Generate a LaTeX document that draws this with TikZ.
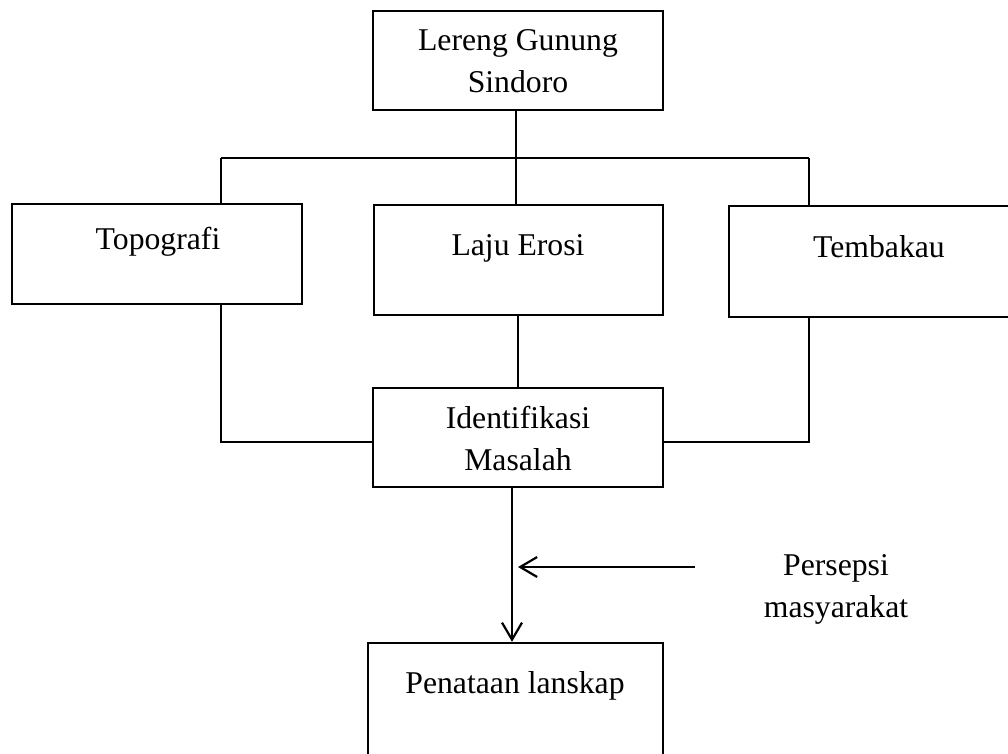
\documentclass[tikz,border=0pt]{standalone}
\usepackage{fontspec}
\setmainfont{Liberation Serif}
\usetikzlibrary{arrows.meta}
\begin{document}
\begin{tikzpicture}[x=1pt,y=-1pt,
  box/.style={draw=black,line width=2.4pt,rectangle,inner sep=0pt,minimum width=#1},
  lbl/.style={font=\fontsize{31.7}{42}\selectfont,inner sep=0pt,align=center},
  thin/.style={draw=black,line width=1.2pt},
  arr/.style={draw=black,line width=2.2pt,-{Straight Barb[length=17pt,width=20pt,line width=2.2pt]}}
]
\useasboundingbox (0,0) rectangle (1008,753);
% boxes
\node[box=290pt,minimum height=99pt]  (top)   at (518,60.5) {};
\node[box=290pt,minimum height=100pt] (topo)  at (157,254) {};
\node[box=289pt,minimum height=110pt] (laju)  at (518.5,260) {};
\node[box=301pt,minimum height=111pt] (temb)  at (879.5,261.5) {};
\node[box=290pt,minimum height=99pt]  (ident) at (518,437.5) {};
\node[box=295pt,minimum height=147pt] (pena)  at (515.5,716.5) {};
% texts
\node[lbl] (ttop) at (518,61) {Lereng Gunung\\Sindoro};
\node[lbl,anchor=base] (ttopo) at (158,249) {Topografi};
\node[lbl,anchor=base] (tlaju) at (518,255) {Laju Erosi};
\node[lbl,anchor=base] (ttemb) at (879,257) {Tembakau};
\node[lbl] (tident) at (518,438.5) {Identifikasi\\Masalah};
\node[lbl,anchor=base] (tpena) at (515,693) {Penataan lanskap};
\node[lbl] (tpers) at (836,589.5) {Persepsi\\masyarakat};
% junctions
\coordinate (jL) at (221,158);
\coordinate (jR) at (809,158);
\coordinate (jM) at (516,158);
\coordinate (bL) at (221,442);
\coordinate (bR) at (809,442);
\coordinate (aS) at (695,567);
\coordinate (aE) at (518,567);
% connectors
\draw[thin] (top.south -| jM) -- (jM);
\draw[thin] (jL) -- (jR);
\draw[thin] (jL) -- (jL |- topo.north);
\draw[thin] (jM) -- (jM |- laju.north);
\draw[thin] (jR) -- (jR |- temb.north);
\draw[thin] (topo.south -| bL) -- (bL) -- (bL -| ident.west);
\draw[thin] (temb.south -| bR) -- (bR) -- (bR -| ident.east);
\draw[thin] (laju.south -| ident.north) -- (ident.north);
\draw[arr] (ident.south -| 512,0) -- (pena.north -| 512,0);
\draw[arr] (aS) -- (aE);
\end{tikzpicture}
\end{document}
